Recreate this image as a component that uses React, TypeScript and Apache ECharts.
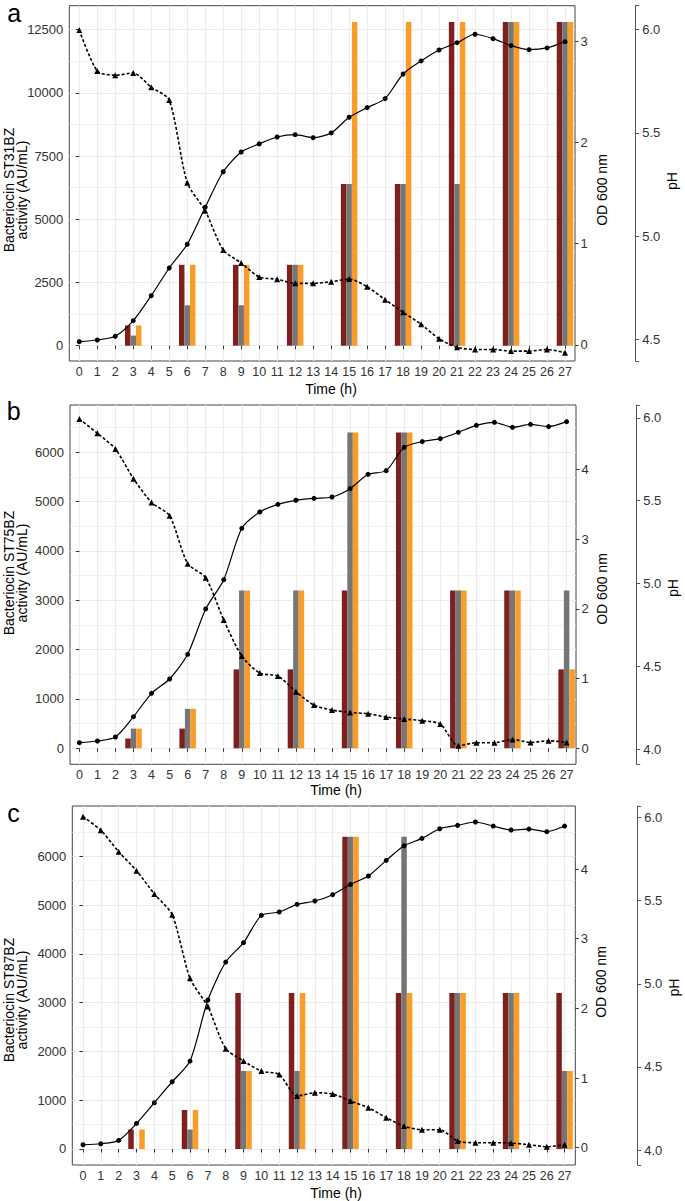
import React, { useEffect, useRef } from "react";
import * as echarts from "echarts";

const FONT = "'Liberation Sans', Arial, sans-serif";

// x categories (hours) and bar sampling hours
const hours = [0, 1, 2, 3, 4, 5, 6, 7, 8, 9, 10, 11, 12, 13, 14, 15, 16, 17, 18, 19, 20, 21, 22, 23, 24, 25, 26, 27];
const barHours = [3, 6, 9, 12, 15, 18, 21, 24, 27];

// Panel a – ST31BZ
const odA = [0.033, 0.049, 0.086, 0.24, 0.487, 0.76, 0.994, 1.36, 1.71, 1.905, 1.985, 2.053, 2.076, 2.046, 2.093, 2.248, 2.343, 2.432, 2.675, 2.804, 2.912, 2.984, 3.067, 3.024, 2.955, 2.915, 2.932, 2.994];
const phA = [5.998, 5.8, 5.779, 5.79, 5.721, 5.659, 5.259, 5.123, 4.933, 4.87, 4.802, 4.791, 4.771, 4.771, 4.779, 4.792, 4.755, 4.692, 4.631, 4.573, 4.503, 4.461, 4.451, 4.451, 4.443, 4.443, 4.451, 4.435];
const redA = [800, 3200, 3200, 3200, 6400, 6400, 12800, 12800, 12800];
const grayA = [400, 1600, 1600, 3200, 6400, 6400, 6400, 12800, 12800];
const orangeA = [800, 3200, 3200, 3200, 12800, 12800, 12800, 12800, 12800];

// Panel b – ST75BZ
const odB = [0.081, 0.105, 0.162, 0.454, 0.789, 0.994, 1.348, 1.998, 2.418, 3.154, 3.388, 3.498, 3.556, 3.584, 3.603, 3.723, 3.928, 3.981, 4.315, 4.397, 4.44, 4.53, 4.631, 4.674, 4.602, 4.645, 4.612, 4.683];
const phB = [5.992, 5.906, 5.811, 5.632, 5.489, 5.409, 5.12, 5.035, 4.78, 4.563, 4.46, 4.442, 4.348, 4.267, 4.237, 4.223, 4.215, 4.195, 4.183, 4.173, 4.153, 4.022, 4.04, 4.04, 4.06, 4.042, 4.052, 4.042];
const redB = [200, 400, 1600, 1600, 3200, 6400, 3200, 3200, 1600];
const grayB = [400, 800, 3200, 3200, 6400, 6400, 3200, 3200, 3200];
const orangeB = [400, 800, 3200, 3200, 6400, 6400, 3200, 3200, 1600];

// Panel c – ST87BZ
const odC = [0.043, 0.057, 0.105, 0.349, 0.646, 0.947, 1.244, 2.12, 2.665, 2.943, 3.335, 3.383, 3.493, 3.541, 3.632, 3.78, 3.9, 4.124, 4.335, 4.44, 4.579, 4.627, 4.675, 4.617, 4.56, 4.574, 4.536, 4.617];
const phC = [6.006, 5.924, 5.795, 5.681, 5.541, 5.416, 5.033, 4.863, 4.61, 4.536, 4.475, 4.455, 4.325, 4.345, 4.337, 4.295, 4.255, 4.195, 4.144, 4.122, 4.122, 4.054, 4.044, 4.044, 4.042, 4.032, 4.02, 4.032];
const redC = [400, 800, 3200, 3200, 6400, 3200, 3200, 3200, 3200];
const grayC = [0, 400, 1600, 1600, 6400, 6400, 3200, 3200, 1600];
const orangeC = [400, 800, 1600, 3200, 6400, 3200, 3200, 3200, 1600];

// Axis tick labels
const auTicksA = [0, 2500, 5000, 7500, 10000, 12500];
const auMinorA = [1250, 3750, 6250, 8750, 11250];
const auTicksBC = [0, 1000, 2000, 3000, 4000, 5000, 6000];
const auMinorBC = [500, 1500, 2500, 3500, 4500, 5500, 6500];
const odTicksA = [0, 1, 2, 3];
const odTicksBC = [0, 1, 2, 3, 4];
const phTicksA = [4.5, 5.0, 5.5, 6.0];
const phTicksBC = [4.0, 4.5, 5.0, 5.5, 6.0];

const COLORS = { red: "#7D201E", gray: "#767676", orange: "#F99D28" };

const panels = [
  {
    letter: "a", strain: "ST31BZ",
    od: odA, ph: phA, red: redA, gray: grayA, orange: orangeA,
    auTicks: auTicksA, auMinor: auMinorA, odTicks: odTicksA, phTicks: phTicksA,
    grid: { left: 69.3, top: 5.7, width: 505.7, height: 355.3 },
    x: [-0.555, 27.555], au: [-605, 13449], odR: [-0.158, 3.349], phR: [4.395, 6.116], phOffset: 60.7,
    letterPos: [7.3, 13], leftTitleY: 190, odTitle: [601.5, 190], phTitle: [672.2, 181], timeTitle: [331, 388.5],
  },
  {
    letter: "b", strain: "ST75BZ",
    od: odB, ph: phB, red: redB, gray: grayB, orange: orangeB,
    auTicks: auTicksBC, auMinor: auMinorBC, odTicks: odTicksBC, phTicks: phTicksBC,
    grid: { left: 70, top: 405, width: 506, height: 359.3 },
    x: [-0.52, 27.52], au: [-324, 6959], odR: [-0.229, 4.922], phR: [3.91, 6.077], phOffset: 60.7,
    letterPos: [6.8, 411.3], leftTitleY: 573, odTitle: [601.5, 589], phTitle: [673.2, 588], timeTitle: [336, 790],
  },
  {
    letter: "c", strain: "ST87BZ",
    od: odC, ph: phC, red: redC, gray: grayC, orange: orangeC,
    auTicks: auTicksBC, auMinor: auMinorBC, odTicks: odTicksBC, phTicks: phTicksBC,
    grid: { left: 72.3, top: 806, width: 503, height: 359 },
    x: [-0.6, 27.6], au: [-328, 7031], odR: [-0.248, 4.905], phR: [3.91, 6.07], phOffset: 62.4,
    letterPos: [7.3, 813], leftTitleY: 1000, odTitle: [600.5, 982], phTitle: [674.2, 987.5], timeTitle: [336, 1192.5],
  },
];

const tickStyle = { color: "#333", width: 1 };
const labelBase = { color: "#333", fontFamily: FONT, fontSize: 13 };

function buildOption() {
  const grid: any[] = [];
  const xAxis: any[] = [];
  const yAxis: any[] = [];
  const series: any[] = [];
  const graphic: any[] = [];

  panels.forEach((p, i) => {
    grid.push({ ...p.grid, show: true, borderColor: "#444", borderWidth: 1, containLabel: false });
    xAxis.push({
      type: "value", gridIndex: i, min: p.x[0], max: p.x[1],
      axisLine: { show: false },
      axisTick: { show: true, customValues: hours, length: 3.5, lineStyle: tickStyle },
      axisLabel: { show: true, customValues: hours, margin: 5, ...labelBase, fontSize: 12.5, lineHeight: 12, formatter: (v: number) => String(v) },
      splitLine: { show: true, lineStyle: { color: "#EBEBEB", width: 1.1 } },
    });
    const base = yAxis.length;
    // left: activity
    yAxis.push({
      type: "value", gridIndex: i, position: "left", min: p.au[0], max: p.au[1],
      axisLine: { show: false },
      axisTick: { show: true, customValues: p.auTicks, length: 3.5, lineStyle: tickStyle },
      axisLabel: { show: true, customValues: p.auTicks, margin: 6, ...labelBase, formatter: (v: number) => String(v) },
      splitLine: { show: true, lineStyle: { color: "#EBEBEB", width: 1.1 } },
    });
    // minor gridlines
    yAxis.push({
      type: "value", gridIndex: i, position: "left", min: p.au[0], max: p.au[1],
      axisLine: { show: false },
      axisTick: { show: true, customValues: p.auMinor, length: 0, lineStyle: { opacity: 0 } },
      axisLabel: { show: false, customValues: p.auMinor },
      splitLine: { show: true, lineStyle: { color: "#EDEDED", width: 0.8 } },
    });
    // right: OD
    yAxis.push({
      type: "value", gridIndex: i, position: "right", min: p.odR[0], max: p.odR[1],
      axisLine: { show: false },
      axisTick: { show: true, customValues: p.odTicks, length: 3.5, lineStyle: tickStyle },
      axisLabel: { show: true, customValues: p.odTicks, margin: 5.5, ...labelBase, formatter: (v: number) => String(v) },
      splitLine: { show: false },
    });
    // far right: pH
    yAxis.push({
      type: "value", gridIndex: i, position: "right", offset: p.phOffset, min: p.phR[0], max: p.phR[1],
      axisLine: { show: true, lineStyle: { color: "#555", width: 1 } },
      axisTick: { show: true, customValues: [p.phR[0], ...p.phTicks, p.phR[1]], length: 3.5, lineStyle: { color: "#555", width: 1 } },
      axisLabel: { show: true, customValues: p.phTicks, margin: 6.5, ...labelBase, formatter: (v: number) => v.toFixed(1) },
      splitLine: { show: false },
    });

    const bar = (name: string, vals: number[], color: string) => ({
      type: "bar", name, xAxisIndex: i, yAxisIndex: base,
      data: barHours.map((h, k) => [h, vals[k]]),
      barWidth: 5.5, barGap: "0%", itemStyle: { color }, z: 3,
    });
    series.push(bar("red", p.red, COLORS.red));
    series.push(bar("gray", p.gray, COLORS.gray));
    series.push(bar("orange", p.orange, COLORS.orange));
    series.push({
      type: "line", name: "OD 600 nm", xAxisIndex: i, yAxisIndex: base + 2,
      data: hours.map((h, k) => [h, p.od[k]]),
      symbol: "circle", symbolSize: 5, smooth: 0.25,
      lineStyle: { color: "#000", width: 1.2 }, itemStyle: { color: "#000" }, z: 5,
    });
    series.push({
      type: "line", name: "pH", xAxisIndex: i, yAxisIndex: base + 3,
      data: hours.map((h, k) => [h, p.ph[k]]),
      symbol: "triangle", symbolSize: 6, smooth: 0.25,
      lineStyle: { color: "#000", width: 1.6, type: [3, 2] }, itemStyle: { color: "#000" }, z: 5,
    });

    const txt = (text: string, x: number, y: number, size: number, rot = 0, align = "center") => ({
      type: "text", x, y, rotation: rot, silent: true,
      style: { text, x: 0, y: 0, align, verticalAlign: "middle", fontSize: size, fontFamily: FONT, fill: "#000" },
    });
    graphic.push(txt(p.letter, p.letterPos[0], p.letterPos[1], 25, 0, "left"));
    graphic.push(txt("Bacteriocin " + p.strain, 9.3, p.leftTitleY, 14, Math.PI / 2));
    graphic.push(txt("activity (AU/mL)", 22.3, p.leftTitleY, 14, Math.PI / 2));
    graphic.push(txt("OD 600 nm", p.odTitle[0], p.odTitle[1], 14, Math.PI / 2));
    graphic.push(txt("pH", p.phTitle[0], p.phTitle[1], 14, Math.PI / 2));
    graphic.push(txt("Time (h)", p.timeTitle[0], p.timeTitle[1], 14));
  });

  return { animation: false, backgroundColor: "#fff", grid, xAxis, yAxis, series, graphic };
}

export default function App() {
  const ref = useRef<HTMLDivElement>(null);
  useEffect(() => {
    if (!ref.current) return;
    const chart = echarts.init(ref.current, undefined, { renderer: "svg" });
    chart.setOption(buildOption() as any);
    return () => chart.dispose();
  }, []);
  return (
    <div
      ref={ref}
      style={{ position: "absolute", left: 0, top: 0, width: 685, height: 1201, background: "#fff" }}
    />
  );
}
